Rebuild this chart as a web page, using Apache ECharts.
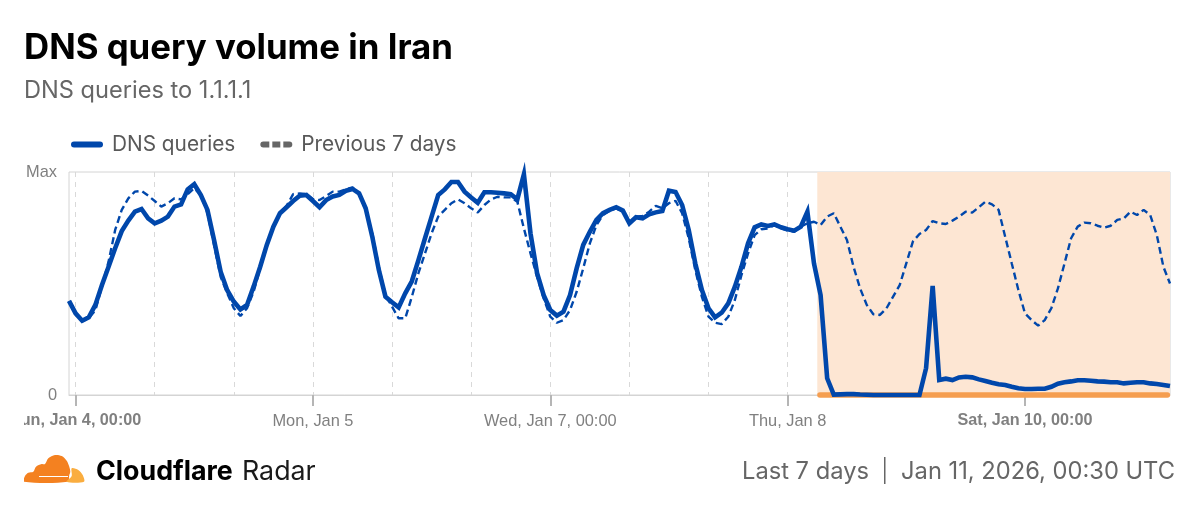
<!DOCTYPE html>
<html>
<head>
<meta charset="utf-8">
<title>DNS query volume in Iran</title>
<script src="https://cdn.jsdelivr.net/npm/echarts@6/dist/echarts.min.js"></script>
<style>
  html, body { margin: 0; padding: 0; background: #fff; overflow: hidden; }
  /* starts at x=24 so the first tick label gets cut off like in the original */
  #chart { position: absolute; left: 24px; top: 0; width: 1176px; height: 506px; }
</style>
</head>
<body>
<div id="chart"></div>
<script>
// hourly samples, scaled so that the top of the plot is 100 ("Max")
var dnsQueries = [
  42.2,36.6,33.3,34.8,40.4,49.3,57.5,65.8,73.5,78.2,82.2,83.4,
  79.2,77,78.2,80,84.5,85.5,92.2,94.5,89.7,83,69.5,55.3,
  47,41.9,38.4,40.4,48.6,57.5,67.3,75.5,81.5,84.2,87,89.4,
  89.7,87,84.2,87.4,89,89.7,91.6,92.4,90.4,83.7,71,56,
  44.1,41.6,39.3,45.6,51,60.5,70.3,80,89.7,92.2,95.5,95.5,
  91.2,88.6,86.2,90.9,90.9,90.7,90.4,90,87.7,99,72.5,54.6,
  44.8,38.1,35.6,37.4,44.8,56.8,67.3,73.2,78.5,81.5,83,84.2,
  82.7,77,79.7,79.2,81,81.9,82.5,91.6,91,85.2,74,59,
  47.1,38.9,34.8,36.9,41.1,48.6,57.5,68,75.2,76.5,75.8,76.5,
  75.2,74.3,73.7,75.5,82.2,59,44.8,7.5,0.2,0.3,0.4,0.4,
  0.2,0.1,0,0,0,0,0,0,0,0,12,48.9,
  6.7,7.3,6.7,7.9,8.2,7.9,7,6.3,5.5,4.8,4.5,3.7,
  3,2.7,2.7,2.8,2.8,3.7,5.1,5.7,6.1,6.6,6.6,6.4,
  6.1,6,5.7,5.7,5.2,5.5,5.7,5.7,5.2,4.9,4.5,4
];
var previous7Days = [
  42,36.4,33,34.5,38,48.6,59.8,74,83,88.2,91.2,91.5,
  89.4,87,84.5,86,88.2,87.7,90,92.7,89.7,81.5,67.3,53,
  45.6,38.9,35.4,38.9,46.3,56.8,66.5,75.5,81.8,84.8,90.1,90.4,
  90.1,87.9,87.4,89.2,91.2,91.2,92.2,93.1,90.1,83,72.5,57.5,
  44.8,39.6,34.4,34.4,44,54.6,63.5,72.5,80,83,86,87.7,
  86,83.7,81.8,85.2,87.7,88.9,88.6,88.6,86.7,74.7,63.5,53,
  43.3,35.1,32.4,33.6,38.1,46.3,56.8,68,76.2,80.7,82.7,83.7,
  82.2,77.3,80,80.3,82.2,84.8,83.7,86,87.1,81.5,70.3,56,
  44,35.1,32.4,31.8,35.1,42.6,53.8,63.5,71.7,74.3,74.7,76.2,
  74.7,73.7,73.2,75.5,77,77.7,76.2,80,81.5,75.5,69.5,57.5,
  47.8,40.4,36.2,35.9,38.9,44.1,49.3,59,68.8,72.2,74,78,
  77,76.7,78.2,80,82.2,81.8,84.2,86.7,85.5,83,71,59,
  47.1,36.6,33.6,31.1,33.6,38.9,47.8,59,70.3,75.5,77.3,77,
  75.9,75,75.9,78.5,79.2,82.2,80.7,83,80.7,71.7,57.5,50
];
// position of each labelled tick in the hourly list
var tickIndexes = [1, 37, 73, 109, 145];
var tickLabels = ['Sun, Jan 4, 00:00', 'Mon, Jan 5', 'Wed, Jan 7, 00:00', 'Thu, Jan 8', 'Sat, Jan 10, 00:00'];
var boldTicks = ['Sun, Jan 4, 00:00', 'Sat, Jan 10, 00:00'];
var gridEvery = 12;
var outageStart = 113.5;
var outageEnd = 167;

var hours = dnsQueries.map(function (v, i) { return String(i); });

var BLUE = '#0047ab';
// logo outline
var cloudDark = [[0,26.7],[1,21],[4.3,17.7],[9.3,16.7],[12,11.7],[17.7,9],[21,9],[24.3,3.3],[31,0],[37.7,1],[42.7,5.7],[45.3,11.7],[46.3,16.7],[45.3,20],[43.7,26.7]];
var cloudLight = [[42.7,26.7],[47.7,21],[47.7,13.3],[54.3,15],[58.7,20],[60,26.7]];
// legend keys
var solidKey = 'path://M3 0H29A3 3 0 0 1 29 6H3A3 3 0 0 1 3 0Z';
var dashKey = 'path://M3 0H9V6H3A3 3 0 0 1 3 0Z M12 0H20V6H12Z M23 0H29A3 3 0 0 1 29 6H23Z';

var chart = echarts.init(document.getElementById('chart'));
chart.setOption({
  animation: false,
  title: {
    text: 'DNS query volume in Iran',
    subtext: 'DNS queries to 1.1.1.1',
    left: 0, top: 31, padding: 0, itemGap: 13,
    textStyle: { fontFamily: 'Inter', fontSize: 34.8, fontWeight: 700, color: '#000' },
    subtextStyle: { fontFamily: 'Inter', fontSize: 23.6, color: '#666' }
  },
  legend: {
    left: 47, top: 134, padding: 0, itemWidth: 32, itemHeight: 7, itemGap: 25,
    textStyle: { fontFamily: 'Inter', fontSize: 20.8, color: '#595959', padding: [0, 0, 0, 4] },
    data: [
      { name: 'DNS queries', icon: solidKey, itemStyle: { color: BLUE } },
      { name: 'Previous 7 days', icon: dashKey, itemStyle: { color: '#666' } }
    ]
  },
  grid: { left: 45, right: 30, top: 172, bottom: 111, show: true, borderColor: '#d4d4d4', borderWidth: 1, outerBoundsMode: 'none' },
  xAxis: [{
    type: 'category',
    data: hours,
    boundaryGap: false,
    axisLine: { lineStyle: { color: '#d4d4d4' } },
    axisTick: {
      length: 11,
      interval: function (i) { return tickIndexes.indexOf(i) >= 0; },
      lineStyle: { color: '#b5b5b5', width: 2 }
    },
    axisLabel: {
      margin: 18,
      interval: function (i) { return tickIndexes.indexOf(i) >= 0; },
      formatter: function (v, i) {
        var t = tickLabels[tickIndexes.indexOf(i)];
        return boldTicks.indexOf(t) >= 0 ? '{b|' + t + '}' : t;
      },
      fontFamily: 'Liberation Sans', fontSize: 16.4, color: '#808080',
      rich: { b: { fontFamily: 'Liberation Sans', fontSize: 16.2, fontWeight: 700, color: '#808080' } }
    },
    splitLine: {
      show: true,
      interval: function (i) { return (i - 1) % gridEvery === 0; },
      lineStyle: { color: '#d9d9d9', type: [5, 5] }
    }
  }, {
    // hidden, lets the outage band start between two samples
    type: 'value', min: 0, max: 167, show: false
  }],
  yAxis: {
    type: 'value', min: 0, max: 100, interval: 100,
    axisLine: { show: false }, axisTick: { show: false }, splitLine: { show: false },
    axisLabel: {
      margin: 12, fontFamily: 'Liberation Sans', fontSize: 16.4, color: '#808080',
      formatter: function (v) { return v === 100 ? 'Max' : '0'; }
    }
  },
  series: [
    {
      name: 'outage', type: 'line', xAxisIndex: 1, data: [], z: 1, clip: false, silent: true, symbol: 'none',
      markArea: {
        silent: true, z: 1,
        itemStyle: { color: '#fde6d3' },
        data: [[{ coord: [outageStart, 100] }, { coord: [outageEnd, 0] }]]
      },
      markLine: {
        silent: true, z: 2, symbol: 'none', label: { show: false },
        lineStyle: { color: '#f59e50', width: 5.5, type: 'solid', cap: 'round' },
        data: [[{ coord: [outageStart + 0.4, 0] }, { coord: [outageEnd - 0.4, 0] }]]
      }
    },
    {
      name: 'Previous 7 days', type: 'line', data: previous7Days, symbol: 'none', z: 3,
      lineStyle: { color: BLUE, width: 2.4, type: [7, 4] }, itemStyle: { color: BLUE }
    },
    {
      name: 'DNS queries', type: 'line', data: dnsQueries, symbol: 'none', z: 4, clip: false,
      lineStyle: { color: BLUE, width: 4.6, join: 'miter' }, itemStyle: { color: BLUE }
    }
  ],
  graphic: [
    { type: 'polygon', x: 0, y: 455, shape: { points: cloudDark, smooth: 0.3 }, style: { fill: '#f48120' } },
    { type: 'polygon', x: 0, y: 455, shape: { points: cloudLight, smooth: 0.3 }, style: { fill: '#faad3f' } },
    { type: 'line', x: 0, y: 455, shape: { x1: 15, y1: 21.5, x2: 44, y2: 21.5 }, style: { stroke: '#fff', lineWidth: 1 } },
    { type: 'text', left: 72, top: 458, style: { text: 'Cloudflare', fontFamily: 'Inter', fontSize: 26.8, fontWeight: 700, fill: '#000' } },
    { type: 'text', left: 218, top: 458, style: { text: 'Radar', fontFamily: 'Inter', fontSize: 26.8, fill: '#1a1a1a' } },
    { type: 'text', left: 718, top: 460, style: { text: 'Last 7 days', fontFamily: 'Inter', fontSize: 23.7, fill: '#666' } },
    { type: 'rect', x: 860, y: 457, shape: { x: 0, y: 0, width: 1.5, height: 27 }, style: { fill: '#666' } },
    { type: 'text', right: 25, top: 460, style: { text: 'Jan 11, 2026, 00:30 UTC', fontFamily: 'Inter', fontSize: 23.7, fill: '#666' } }
  ]
});
</script>
</body>
</html>
